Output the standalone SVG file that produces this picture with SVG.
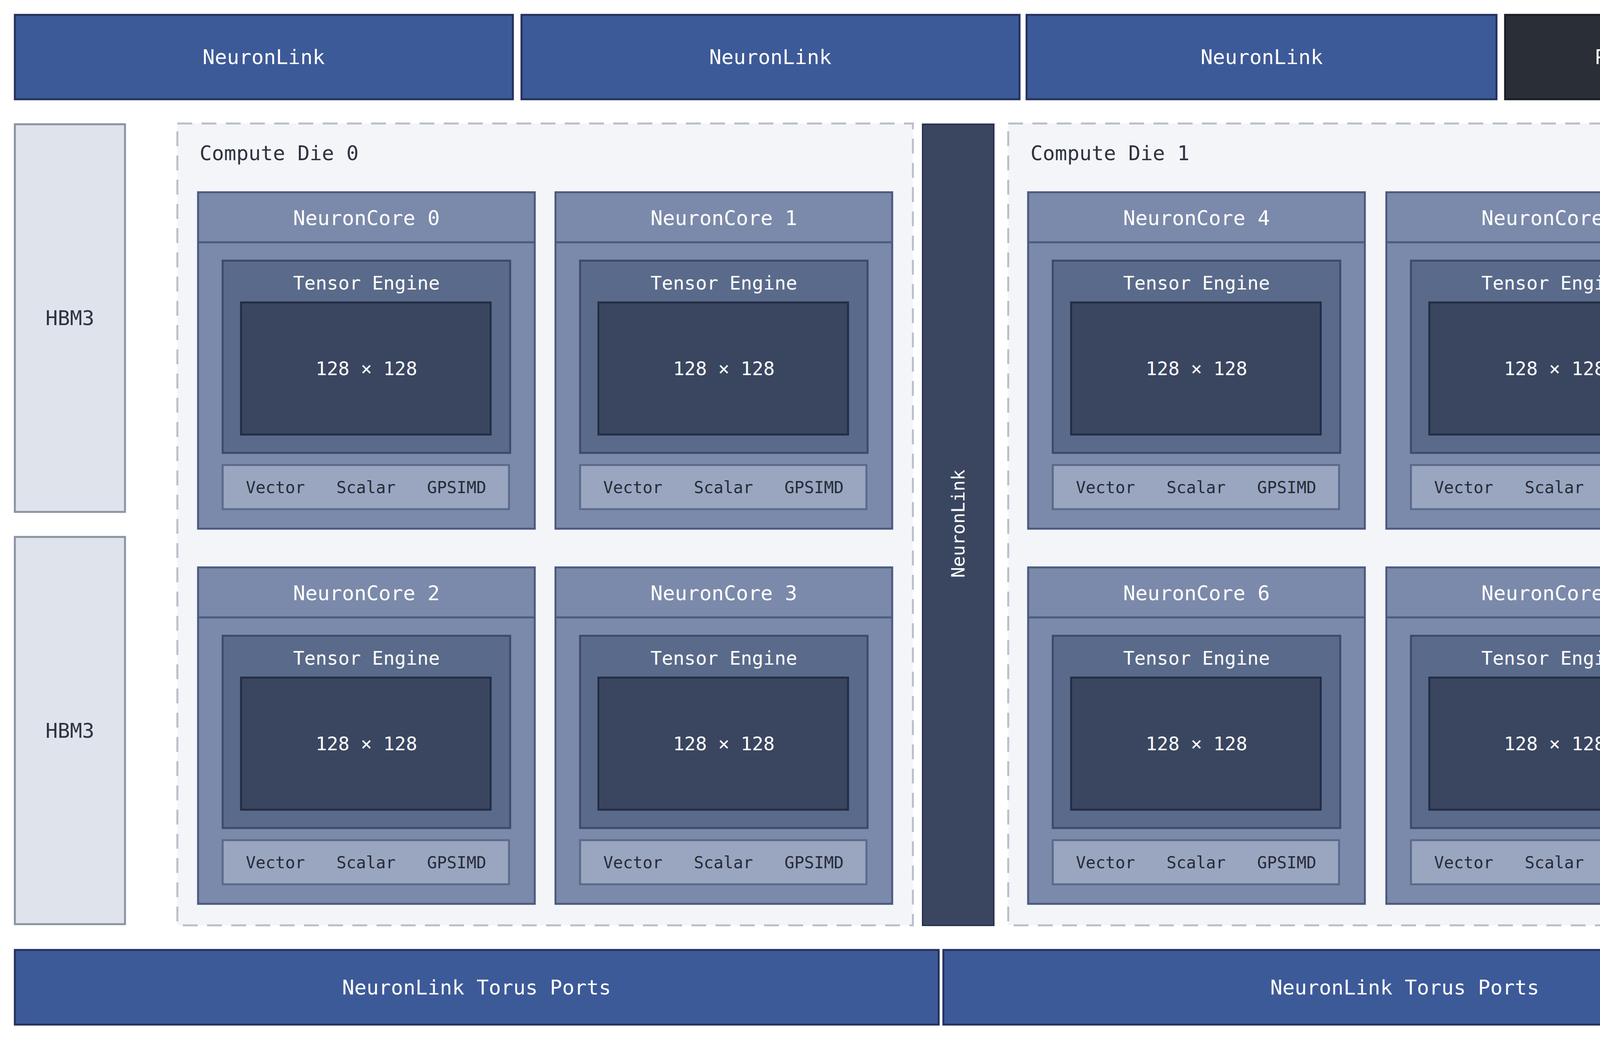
<svg xmlns="http://www.w3.org/2000/svg" width="4912" height="2664" viewBox="0 0 4912 2664">
<style>
text{font-family:"DejaVu Sans Mono","Liberation Mono",monospace;text-anchor:middle;dominant-baseline:central}
.bar{fill:#3d5a98;stroke:#23315f;stroke-width:5}
.pcie{fill:#2a2e36;stroke:#1a1d22;stroke-width:5}
.hbm{fill:#dfe3eb;stroke:#8a93a3;stroke-width:5}
.die{fill:#f4f5f9;stroke:#b8bec9;stroke-width:5;stroke-dasharray:38 24}
.core{fill:#7b8aaa;stroke:#4a5a80;stroke-width:5}
.te{fill:#5a6a8a;stroke:#3d4a6a;stroke-width:5}
.arr{fill:#3a4660;stroke:#232c45;stroke-width:5}
.units{fill:#9aa6c0;stroke:#5a6a8a;stroke-width:5}
.vl{fill:#3a4660;stroke:#2a3450;stroke-width:4}
.w{fill:#ffffff;font-size:52px}
.wt{fill:#ffffff;font-size:48px}
.dk{fill:#2e3440;font-size:52px}
.u{fill:#262b38;font-size:42px}
</style>
<defs>
<g id="coreBody">
<rect class="core" x="0" y="0" width="862" height="861"/>
<line x1="0" y1="128" x2="862" y2="128" stroke="#4a5a80" stroke-width="5"/>
<rect class="te" x="63" y="175" width="736" height="492"/>
<text class="wt" x="431" y="232">Tensor Engine</text>
<rect class="arr" x="110" y="282" width="639" height="338"/>
<text class="wt" x="431" y="451">128 × 128</text>
<rect class="units" x="63" y="698" width="733" height="113"/>
<text class="u" x="198" y="755">Vector</text>
<text class="u" x="430" y="755">Scalar</text>
<text class="u" x="662" y="755">GPSIMD</text>
</g>
</defs>
<rect width="4912" height="2664" fill="#ffffff"/>
<g id="nl-top-0"><rect class="bar" x="38" y="38" width="1275" height="216"/><text class="w" x="675" y="146">NeuronLink</text></g>
<g id="nl-top-1"><rect class="bar" x="1335" y="38" width="1275" height="216"/><text class="w" x="1972" y="146">NeuronLink</text></g>
<g id="nl-top-2"><rect class="bar" x="2628" y="38" width="1203" height="216"/><text class="w" x="3230" y="146">NeuronLink</text></g>
<g id="pcie"><rect class="pcie" x="3853" y="38" width="1022" height="216"/><text class="w" x="4364" y="146">PCIe / EFA (Nitro)</text></g>
<g id="hbm-0"><rect class="hbm" x="38" y="318" width="282" height="992"/><text class="dk" x="179" y="814">HBM3</text></g>
<g id="hbm-1"><rect class="hbm" x="38" y="1374" width="282" height="991"/><text class="dk" x="179" y="1870">HBM3</text></g>
<g id="hbm-2"><rect class="hbm" x="4590" y="318" width="281" height="992"/><text class="dk" x="4730" y="814">HBM3</text></g>
<g id="hbm-3"><rect class="hbm" x="4590" y="1374" width="281" height="991"/><text class="dk" x="4730" y="1870">HBM3</text></g>
<g id="die-0"><rect class="die" x="454" y="316" width="1883" height="2052"/><text class="dk" x="511" y="392" style="text-anchor:start">Compute Die 0</text></g>
<g id="die-1"><rect class="die" x="2581" y="316" width="1883" height="2052"/><text class="dk" x="2638" y="392" style="text-anchor:start">Compute Die 1</text></g>
<g id="nl-vert"><rect class="vl" x="2362" y="318" width="182" height="2050"/><text class="w" x="2453" y="1340" transform="rotate(-90 2453 1340)" style="font-size:46px">NeuronLink</text></g>
<g id="core-0" transform="translate(507 492)"><use href="#coreBody"/><text class="w" x="431" y="66">NeuronCore 0</text></g>
<g id="core-1" transform="translate(1422 492)"><use href="#coreBody"/><text class="w" x="431" y="66">NeuronCore 1</text></g>
<g id="core-2" transform="translate(507 1452)"><use href="#coreBody"/><text class="w" x="431" y="66">NeuronCore 2</text></g>
<g id="core-3" transform="translate(1422 1452)"><use href="#coreBody"/><text class="w" x="431" y="66">NeuronCore 3</text></g>
<g id="core-4" transform="translate(2632 492)"><use href="#coreBody"/><text class="w" x="431" y="66">NeuronCore 4</text></g>
<g id="core-5" transform="translate(3549 492)"><use href="#coreBody"/><text class="w" x="431" y="66">NeuronCore 5</text></g>
<g id="core-6" transform="translate(2632 1452)"><use href="#coreBody"/><text class="w" x="431" y="66">NeuronCore 6</text></g>
<g id="core-7" transform="translate(3549 1452)"><use href="#coreBody"/><text class="w" x="431" y="66">NeuronCore 7</text></g>
<g id="torus-0"><rect class="bar" x="38" y="2431" width="2365" height="191"/><text class="w" x="1220" y="2527">NeuronLink Torus Ports</text></g>
<g id="torus-1"><rect class="bar" x="2415" y="2431" width="2362" height="191"/><text class="w" x="3596" y="2527">NeuronLink Torus Ports</text></g>
<g id="connectors"></g>
</svg>
